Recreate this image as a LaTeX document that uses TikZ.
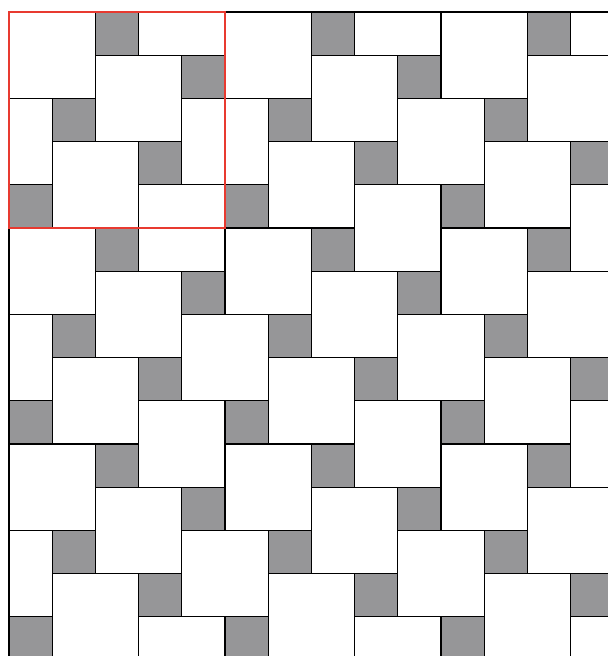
\documentclass[tikz,border=0pt]{standalone}
\usepackage{tikz}
\definecolor{tilegrey}{RGB}{150,150,152}
\definecolor{framered}{RGB}{232,58,48}
\tikzset{
  bigtile/.style={draw=black, fill=white, line width=0.75pt},
  smalltile/.style={draw=black, fill=tilegrey, line width=0.75pt},
  redframe/.style={draw=framered, line width=1.9pt}
}
\begin{document}
\begin{tikzpicture}
\useasboundingbox (-0.2083,0.2778) rectangle (13.8657,-14.9074);
\begin{scope}
\clip (0,0) rectangle (13.8657,-14.9074);
\foreach \m in {-10,...,10} {
  \foreach \n in {-6,...,12} {
    \pgfmathsetmacro\px{2*\m-\n}
    \pgfmathsetmacro\py{-\m-2*\n}
    \path[bigtile] (\px,\py) rectangle ++(2,-2);
    \path[smalltile] (\px+2,\py) rectangle ++(1,-1);
  }
}
\end{scope}
\draw[line width=0.75pt, line cap=rect] (0,-14.9074) -- (0,0) -- (13.8657,0);
\draw[redframe] (0,0) rectangle (5,-5);
\end{tikzpicture}
\end{document}
